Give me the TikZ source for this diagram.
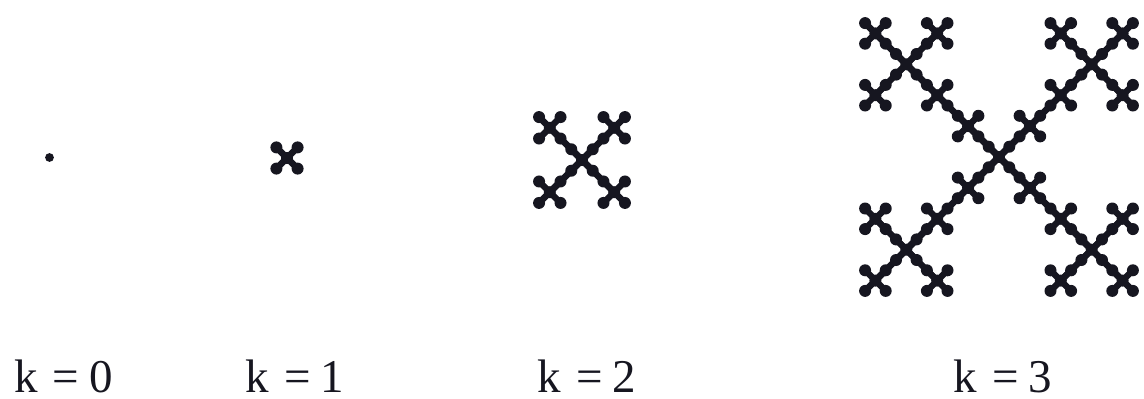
\documentclass[tikz,border=0pt]{standalone}
\usepackage{fontspec}
\setmainfont{Liberation Serif}
\definecolor{ink}{RGB}{22,22,32}
\tikzset{
  dotc/.style={fill=ink},
  linkc/.style={draw=ink,line width=6.4pt},
  klabel/.style={anchor=base,inner sep=0pt,text=ink,font=\fontsize{47}{47}\selectfont}
}
\newcommand\dotrad{6pt}
% #1 level, #2 x, #3 y, #4 offset of this level's corner copies
\newcommand\vicsek[4]{%
  \ifnum#1=0
    \fill[dotc] (#2,#3) circle[radius=\dotrad];
  \else
    \begingroup
    \pgfmathsetmacro\vns{#4/3}%
    \pgfmathtruncatemacro\vnk{#1-1}%
    \draw[linkc] (#2-#4,#3-#4) -- (#2+#4,#3+#4) (#2-#4,#3+#4) -- (#2+#4,#3-#4);
    \pgfmathsetmacro\vxa{#2-#4}\pgfmathsetmacro\vxb{#2+#4}%
    \pgfmathsetmacro\vya{#3-#4}\pgfmathsetmacro\vyb{#3+#4}%
    \edef\vnext{%
      \noexpand\vicsek{\vnk}{#2}{#3}{\vns}%
      \noexpand\vicsek{\vnk}{\vxa}{\vya}{\vns}%
      \noexpand\vicsek{\vnk}{\vxb}{\vya}{\vns}%
      \noexpand\vicsek{\vnk}{\vxa}{\vyb}{\vns}%
      \noexpand\vicsek{\vnk}{\vxb}{\vyb}{\vns}}%
    \vnext
    \endgroup
  \fi}
\begin{document}
\begin{tikzpicture}[x=1pt,y=-1pt]
  \useasboundingbox (0,0) rectangle (1144,399);
  \fill[white] (0,0) rectangle (1144,399);
  % k = 0
  \fill[dotc] (49.5,157.5) circle[radius=4.4pt];
  % k = 1
  \vicsek{1}{287}{158}{10.6}
  % k = 2
  \vicsek{2}{582}{160}{32.2}
  % k = 3
  \vicsek{3}{999}{157}{92.7}
  % labels
  \node[klabel] (l0) at (63.5,392) {k\hskip.32em=\hskip.22em0};
  \node[klabel] (l1) at (295,392) {k\hskip.32em=\hskip.22em1};
  \node[klabel] (l2) at (587,392) {k\hskip.32em=\hskip.22em2};
  \node[klabel] (l3) at (1003,392) {k\hskip.32em=\hskip.22em3};
\end{tikzpicture}
\end{document}
